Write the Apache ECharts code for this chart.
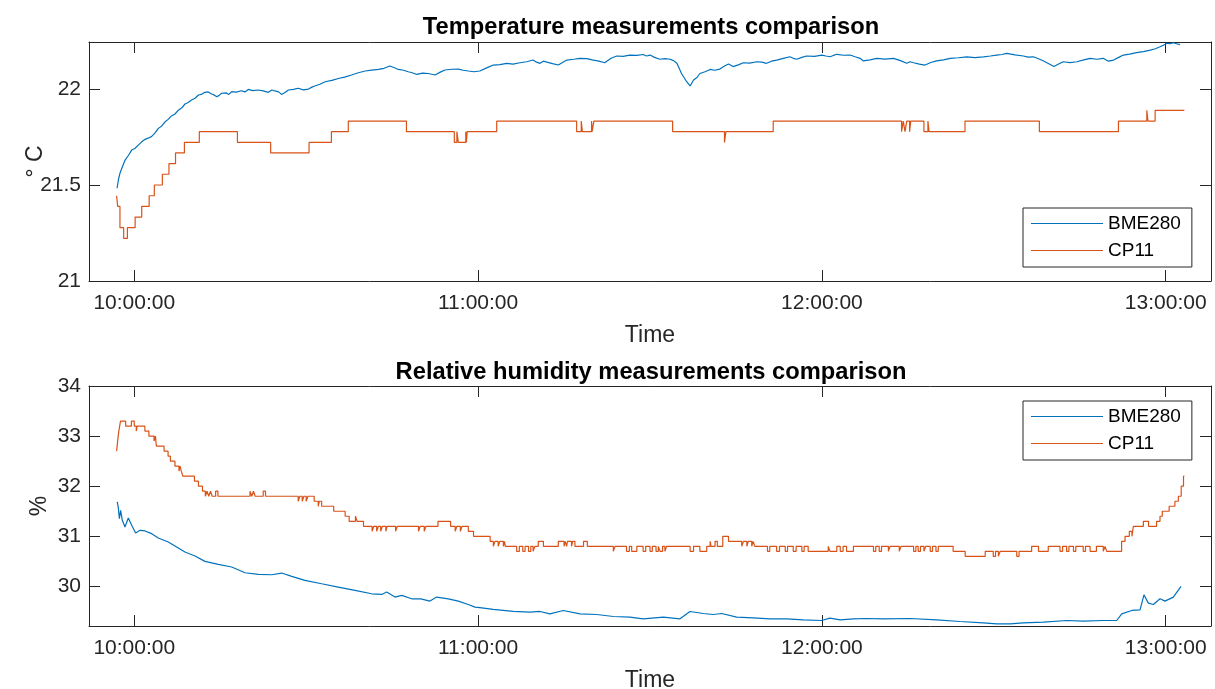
<!DOCTYPE html>
<html>
<head>
<meta charset="utf-8">
<title>Temperature / humidity comparison</title>
<script src="https://cdn.jsdelivr.net/npm/echarts@6/dist/echarts.min.js"></script>
<style>
  html, body { margin: 0; padding: 0; background: #fff; }
  #chart { width: 1215px; height: 689px; }
</style>
</head>
<body>
<div id="chart"></div>
<script>
//************************* data ******************************//
// time = minutes after 10:00:00
var seriesNames = ['BME280', 'CP11'];
var timeTicks = [0, 60, 120, 180];
var tempTicks = [21, 21.5, 22];
var humTicks = [30, 31, 32, 33, 34];

// BME280 temperature [min, °C]
var tempBME280 = [
  [-3.0,21.483],[-2.75,21.53],[-2.5,21.561],[-2.0,21.6],[-1.6,21.63],[-1.0,21.655],[-0.45,21.682],
  [0.1,21.69],[0.7,21.708],[1.3,21.725],[1.9,21.738],[2.4,21.744],[3.0,21.752],[3.6,21.77],[4.2,21.795],
  [4.8,21.808],[5.4,21.83],[5.9,21.842],[6.5,21.86],[7.1,21.87],[7.7,21.89],[8.3,21.902],[8.85,21.922],
  [9.4,21.93],[10.0,21.943],[10.6,21.952],[11.2,21.969],[11.7,21.972],[12.3,21.983],[12.9,21.985],
  [13.5,21.974],[14.0,21.968],[14.4,21.96],[14.8,21.967],[15.25,21.978],[16.0,21.98],[16.5,21.972],
  [17.0,21.986],[17.8,21.984],[18.7,21.991],[19.3,21.985],[19.9,21.998],[20.7,21.992],[21.6,21.995],
  [22.5,21.99],[23.4,21.983],[24.0,21.995],[24.55,21.99],[25.2,21.985],[25.7,21.972],[26.3,21.982],
  [26.9,21.995],[27.8,21.998],[28.6,22.004],[29.5,21.996],[30.4,22.0],[31.0,22.01],[31.5,22.016],
  [32.4,22.025],[33.3,22.038],[34.5,22.045],[35.6,22.055],[36.7,22.062],[37.9,22.073],[39.1,22.085],
  [40.3,22.094],[41.4,22.098],[42.6,22.102],[43.6,22.108],[44.6,22.12],[45.3,22.112],[46.1,22.102],
  [47.0,22.098],[47.8,22.09],[48.5,22.085],[49.3,22.076],[50.3,22.083],[51.3,22.081],[51.9,22.077],
  [52.5,22.073],[53.4,22.088],[54.2,22.099],[55.4,22.103],[56.55,22.104],[57.4,22.098],[58.3,22.094],
  [59.3,22.09],[60.3,22.094],[61.5,22.11],[62.65,22.125],[63.8,22.127],[65.0,22.134],[66.1,22.13],
  [67.3,22.137],[68.5,22.142],[69.6,22.151],[70.2,22.14],[70.8,22.134],[71.4,22.145],[72.0,22.14],
  [73.0,22.132],[74.0,22.125],[74.8,22.14],[75.5,22.151],[76.7,22.155],[77.8,22.16],[79.0,22.158],
  [80.1,22.151],[81.1,22.145],[82.1,22.137],[83.2,22.16],[84.2,22.172],[85.3,22.17],[86.5,22.177],
  [87.7,22.175],[88.8,22.18],[89.4,22.172],[90.0,22.177],[90.8,22.165],[91.7,22.155],[92.6,22.158],
  [93.5,22.155],[94.1,22.148],[94.7,22.134],[95.5,22.081],[96.4,22.038],[97.0,22.016],[97.6,22.047],
  [98.2,22.06],[98.7,22.081],[99.6,22.09],[100.5,22.102],[101.3,22.098],[102.2,22.104],[103.0,22.12],
  [103.7,22.13],[104.5,22.117],[105.4,22.126],[106.3,22.137],[107.4,22.135],[108.6,22.142],
  [109.5,22.14],[110.35,22.134],[111.2,22.145],[112.1,22.151],[113.3,22.16],[114.4,22.168],
  [115.0,22.16],[115.6,22.155],[116.5,22.165],[117.3,22.172],[118.7,22.17],[120.0,22.177],
  [120.7,22.172],[121.4,22.168],[122.0,22.175],[122.6,22.181],[123.8,22.176],[124.9,22.177],
  [125.8,22.168],[126.65,22.16],[127.2,22.147],[128.4,22.152],[129.6,22.16],[131.0,22.156],
  [132.5,22.16],[133.7,22.148],[134.8,22.134],[135.4,22.142],[136.0,22.137],[137.0,22.13],
  [138.0,22.125],[139.0,22.138],[140.0,22.147],[141.2,22.152],[142.4,22.16],[143.8,22.163],
  [145.3,22.168],[146.7,22.164],[148.2,22.168],[149.4,22.172],[150.5,22.177],[151.4,22.18],
  [152.25,22.186],[153.7,22.178],[155.15,22.172],[156.0,22.166],[156.9,22.168],[157.8,22.158],
  [158.6,22.147],[159.6,22.132],[160.5,22.117],[161.3,22.13],[162.1,22.142],[163.3,22.138],
  [164.5,22.142],[165.7,22.152],[166.8,22.16],[168.0,22.155],[169.1,22.16],[170.0,22.145],
  [170.9,22.151],[171.8,22.165],[172.6,22.177],[173.7,22.182],[174.9,22.19],[176.1,22.195],
  [177.3,22.203],[178.2,22.21],[179.0,22.22],[179.6,22.228],[180.2,22.238],[180.8,22.236],
  [181.3,22.241],[181.9,22.236],[182.5,22.231]
];

// CP11 temperature, change points [min, °C] (0.1 °F steps)
var tempCP11 = [
  [-3.08,21.444],[-2.9,21.389],[-2.5,21.278],[-1.85,21.222],[-1.2,21.278],[0.15,21.333],[1.3,21.389],
  [2.6,21.444],[3.5,21.5],[4.9,21.556],[6.05,21.611],[7.2,21.667],[8.75,21.722],[11.35,21.778],
  [18.0,21.722],[23.8,21.667],[30.5,21.722],[34.4,21.778],[37.35,21.833],[47.5,21.778],[55.85,21.722],
  [56.3,21.778],[56.55,21.722],[57.85,21.778],[57.95,21.722],[58.1,21.778],[63.25,21.833],[77.2,21.778],
  [78.0,21.833],[78.2,21.778],[79.8,21.833],[79.9,21.778],[80.2,21.833],[93.95,21.778],[103.0,21.722],
  [103.25,21.778],[111.5,21.833],[133.9,21.778],[134.2,21.833],[134.5,21.778],[134.8,21.833],
  [135.3,21.778],[135.5,21.833],[137.8,21.778],[138.5,21.833],[138.7,21.778],[144.97,21.833],
  [157.95,21.778],[171.75,21.833],[176.7,21.889],[176.9,21.833],[178.15,21.889],[183.25,21.889]
];

// BME280 relative humidity [min, %]
var humBME280 = [
  [-2.97,31.687],[-2.8,31.587],[-2.6,31.353],[-2.38,31.52],[-2.09,31.32],[-1.62,31.187],[-1.04,31.367],
  [-0.45,31.22],[0.24,31.067],[1.0,31.12],[1.87,31.107],[3.04,31.053],[4.19,30.967],[5.93,30.887],
  [7.39,30.787],[8.85,30.687],[10.59,30.607],[12.34,30.5],[14.66,30.44],[17.0,30.387],[19.32,30.273],
  [21.64,30.24],[23.98,30.233],[25.72,30.267],[27.47,30.2],[29.79,30.12],[32.7,30.053],[35.6,29.987],
  [38.52,29.92],[41.43,29.853],[43.18,29.84],[44.05,29.887],[45.5,29.787],[46.67,29.82],[48.41,29.753],
  [50.0,29.753],[51.6,29.707],[52.77,29.787],[54.8,29.753],[56.55,29.707],[58.29,29.64],[59.46,29.587],
  [60.63,29.573],[62.65,29.54],[66.14,29.5],[69.05,29.487],[70.8,29.5],[72.55,29.453],[74.87,29.52],
  [77.78,29.453],[80.7,29.44],[83.6,29.4],[86.51,29.387],[88.83,29.353],[92.32,29.387],[95.24,29.353],
  [96.98,29.5],[99.3,29.46],[101.05,29.44],[102.51,29.46],[105.13,29.387],[108.03,29.373],
  [110.94,29.353],[113.85,29.353],[116.75,29.333],[119.96,29.32],[121.4,29.367],[123.2,29.333],
  [125.5,29.353],[127.8,29.36],[130.7,29.353],[135.4,29.36],[140.03,29.333],[144.1,29.3],
  [148.17,29.273],[150.5,29.253],[152.83,29.253],[155.15,29.273],[158.64,29.287],[162.72,29.32],
  [165.62,29.307],[169.12,29.32],[171.45,29.32],[172.32,29.453],[174.07,29.52],[175.52,29.533],
  [176.2,29.833],[176.96,29.667],[177.84,29.64],[179.0,29.753],[179.87,29.707],[181.33,29.787],
  [182.67,30.0]
];

// CP11 relative humidity, change points [min, %] (0.1 % steps)
var humCP11 = [
  [-3.08,32.7],[-2.9,32.9],[-2.7,33.1],[-2.4,33.3],[-1.5,33.2],[-0.5,33.3],[0.0,33.2],[0.35,33.1],
  [0.5,33.2],[1.85,33.1],[2.55,33.0],[3.45,32.9],[3.7,33.0],[3.85,32.8],[5.2,32.7],[5.9,32.6],
  [6.3,32.5],[7.1,32.4],[7.8,32.3],[8.0,32.4],[8.2,32.3],[8.5,32.2],[10.5,32.1],[11.2,32.0],
  [11.9,31.9],[12.4,31.8],[12.7,31.9],[13.0,31.8],[13.3,31.9],[13.6,31.8],[14.2,31.9],[14.6,31.8],
  [20.2,31.9],[20.5,31.8],[20.8,31.9],[21.1,31.8],[22.5,31.9],[22.9,31.8],[28.6,31.7],[28.9,31.8],
  [29.3,31.7],[29.6,31.8],[30.0,31.7],[30.3,31.8],[31.4,31.7],[32.1,31.6],[32.3,31.7],[32.7,31.6],
  [34.8,31.5],[36.8,31.4],[37.5,31.3],[38.6,31.4],[38.9,31.3],[40.0,31.2],[41.5,31.1],[41.8,31.2],
  [42.3,31.1],[42.6,31.2],[43.0,31.1],[43.3,31.2],[43.9,31.1],[44.1,31.2],[45.6,31.1],[45.9,31.2],
  [49.6,31.1],[49.9,31.2],[50.6,31.1],[50.9,31.2],[53.0,31.3],[55.2,31.2],[56.0,31.1],[56.3,31.2],
  [56.9,31.1],[57.2,31.2],[58.3,31.1],[59.2,31.0],
  [62.1,30.9],[62.66,30.8],[62.95,30.9],[63.5,30.8],[63.8,30.9],[64.4,30.8],[64.6,30.9],[64.75,30.8],
  [66.73,30.7],[67.2,30.8],[67.8,30.7],[68.2,30.8],[68.8,30.7],[69.2,30.8],[69.6,30.7],[69.9,30.8],
  [70.5,30.9],[71.4,30.8],[74.0,30.9],[75.0,30.8],[75.2,30.9],[75.45,30.8],[75.6,30.9],[76.3,30.8],
  [76.5,30.9],[76.9,30.8],[78.4,30.9],[79.06,30.8],[83.6,30.7],[83.9,30.8],[85.9,30.7],[86.4,30.8],
  [86.8,30.7],[87.7,30.8],[88.8,30.7],[89.25,30.8],[90.0,30.7],[90.4,30.8],[91.05,30.7],[91.45,30.8],
  [91.75,30.7],[92.2,30.8],[92.6,30.7],[92.9,30.8],[97.0,30.7],[97.6,30.8],[98.7,30.7],[99.9,30.8],
  [100.5,30.9],[100.65,30.8],[101.35,30.9],[101.75,30.8],[102.7,31.0],[103.7,30.9],[106.0,30.8],
  [106.3,30.9],[106.9,30.8],[107.15,30.9],[107.75,30.8],[108.0,30.9],[108.3,30.8],[110.5,30.7],
  [110.9,30.8],[112.1,30.7],[112.6,30.8],[113.6,30.7],[114.0,30.8],[115.0,30.7],[115.5,30.8],
  [116.5,30.7],[116.9,30.8],[117.6,30.7],[121.1,30.8],[121.4,30.7],[122.6,30.8],[123.2,30.7],
  [123.7,30.8],[124.3,30.7],[125.5,30.8],
  [129.0,30.7],[129.4,30.8],[130.0,30.7],[130.4,30.8],[131.6,30.7],[131.9,30.8],[133.5,30.7],
  [133.8,30.8],[136.0,30.7],[136.4,30.8],[136.8,30.7],[137.2,30.8],[137.8,30.7],[138.1,30.8],
  [138.9,30.7],[139.3,30.8],[139.9,30.7],[140.3,30.8],[142.9,30.7],[145.0,30.6],[148.5,30.7],
  [149.9,30.6],[150.3,30.7],[150.8,30.6],[151.1,30.7],[154.0,30.6],[154.4,30.7],[156.6,30.8],
  [157.8,30.7],[159.5,30.8],[161.55,30.7],[162.0,30.8],[162.7,30.7],[163.1,30.8],[163.9,30.7],
  [164.3,30.8],[165.6,30.7],[166.0,30.8],[166.8,30.7],[167.9,30.8],[169.1,30.7],[169.4,30.8],
  [169.7,30.7],[172.3,30.9],[172.9,31.0],[173.65,31.1],[174.1,31.0],[174.35,31.2],[176.1,31.3],
  [177.0,31.2],[178.4,31.3],[179.0,31.4],[179.4,31.5],[180.6,31.6],[181.6,31.7],[182.2,31.8],
  [182.7,32.0],[183.1,32.2],[183.25,32.2]
];

//************************* chart ******************************//
var axisColor = '#262626';
var fontName = '"Liberation Sans", Arial, Helvetica, sans-serif';
var blue = '#0072BD';
var orange = '#D95319';

function timeLabel(v) {
    var m = Math.round(v);
    var h = 10 + Math.floor(m / 60);
    var mm = ((m % 60) + 60) % 60;
    return (h < 10 ? '0' + h : h) + ':' + (mm < 10 ? '0' + mm : mm) + ':00';
}

function xAxisFor(gridIndex, pos, withLabel) {
    return {
        type: 'value',
        gridIndex: gridIndex,
        position: pos,
        min: -7.9,
        max: 187.9,
        name: withLabel ? 'Time' : '',
        nameLocation: 'middle',
        nameGap: 43,
        nameMoveOverlap: false,
        nameTextStyle: { fontFamily: fontName, fontSize: 23, color: axisColor },
        axisLine: { show: true, onZero: false, lineStyle: { color: axisColor, width: 1 } },
        axisTick: { show: true, inside: true, length: 11, customValues: timeTicks, lineStyle: { color: axisColor } },
        axisLabel: {
            show: withLabel, customValues: timeTicks, margin: 12,
            fontFamily: fontName, fontSize: 21, color: axisColor,
            formatter: timeLabel
        },
        splitLine: { show: false }
    };
}

function yAxisFor(gridIndex, pos, withLabel, min, max, ticks, name, gap) {
    return {
        type: 'value',
        gridIndex: gridIndex,
        position: pos,
        min: min,
        max: max,
        name: withLabel ? name : '',
        nameLocation: 'middle',
        nameGap: gap,
        nameMoveOverlap: false,
        nameTextStyle: { fontFamily: fontName, fontSize: 23, color: axisColor },
        axisLine: { show: true, onZero: false, lineStyle: { color: axisColor, width: 1 } },
        axisTick: { show: true, inside: true, length: 11, customValues: ticks, lineStyle: { color: axisColor } },
        axisLabel: {
            show: withLabel, customValues: ticks, margin: 8,
            fontFamily: fontName, fontSize: 21, color: axisColor,
            formatter: function (v) { return String(v); }
        },
        splitLine: { show: false }
    };
}

function legendAt(top) {
    return {
        data: seriesNames,
        orient: 'vertical',
        left: 1023,
        top: top,
        icon: 'rect',
        itemWidth: 72,
        itemHeight: 1,
        itemGap: 8,
        padding: [6, 11, 7, 8],
        borderColor: axisColor,
        borderWidth: 1,
        backgroundColor: '#fff',
        textStyle: { fontFamily: fontName, fontSize: 19, color: '#000', lineHeight: 19 }
    };
}

function lineSeries(name, color, xi, yi, data, step) {
    return {
        name: name,
        type: 'line',
        xAxisIndex: xi,
        yAxisIndex: yi,
        data: data,
        step: step ? 'end' : false,
        symbol: 'none',
        lineStyle: { color: color, width: 1.2 },
        itemStyle: { color: color },
        silent: true
    };
}

var myChart = echarts.init(document.getElementById('chart'), null, { renderer: 'canvas' });

var option = {
    animation: false,
    backgroundColor: '#fff',
    title: [{
        text: 'Temperature measurements comparison',
        left: 646, top: 10, textAlign: 'center',
        textStyle: { fontFamily: fontName, fontSize: 23.7, fontWeight: 'bold', color: '#000' }
    }, {
        text: 'Relative humidity measurements comparison',
        left: 646, top: 355, textAlign: 'center',
        textStyle: { fontFamily: fontName, fontSize: 23.7, fontWeight: 'bold', color: '#000' }
    }],
    grid: [
        { left: 89, top: 42, width: 1122, height: 239, outerBoundsMode: 'none' },
        { left: 89, top: 386, width: 1122, height: 240, outerBoundsMode: 'none' }
    ],
    xAxis: [
        xAxisFor(0, 'bottom', true),
        xAxisFor(0, 'top', false),
        xAxisFor(1, 'bottom', true),
        xAxisFor(1, 'top', false)
    ],
    yAxis: [
        yAxisFor(0, 'left', true, 21, 22.245, tempTicks, '° C', 42),
        yAxisFor(0, 'right', false, 21, 22.245, tempTicks, '', 0),
        yAxisFor(1, 'left', true, 29.21, 34, humTicks, '%', 38),
        yAxisFor(1, 'right', false, 29.21, 34, humTicks, '', 0)
    ],
    legend: [legendAt(208), legendAt(401)],
    series: [
        lineSeries('BME280', blue, 0, 0, tempBME280, false),
        lineSeries('CP11', orange, 0, 0, tempCP11, true),
        lineSeries('BME280', blue, 2, 2, humBME280, false),
        lineSeries('CP11', orange, 2, 2, humCP11, true)
    ]
};

myChart.setOption(option);
</script>
</body>
</html>
